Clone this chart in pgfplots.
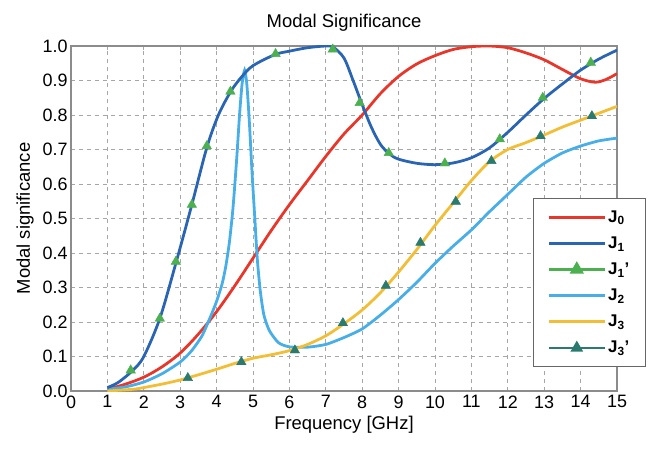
\documentclass[border=0pt]{standalone}
\usepackage{pgfplots}
\pgfplotsset{compat=1.18}
\usepackage{fontspec}
\setmainfont{Liberation Sans}
\definecolor{cJ0}{HTML}{E8362A}
\definecolor{cJ1}{HTML}{2A65B3}
\definecolor{cJ1p}{HTML}{4CAF50}
\definecolor{cJ2}{HTML}{47AEE8}
\definecolor{cJ3}{HTML}{F2BE36}
\definecolor{cJ3p}{HTML}{2A7A6E}
\begin{document}
\begin{tikzpicture}
\path[use as bounding box] (-71bp,-64bp) rectangle (597bp,391bp);
\begin{axis}[
  at={(0,0)}, anchor=south west,
  scale only axis, width=546bp, height=345bp,
  xmin=0, xmax=15, ymin=0, ymax=1,
  xtick={0,1,...,15},
  ytick={0,0.1,...,1.0},
  yticklabel style={/pgf/number format/.cd, fixed, fixed zerofill, precision=1},
  /pgf/number format/assume math mode=true,
  ticklabel style={font=\fontsize{18}{20}\selectfont},
  xticklabel style={yshift=-1bp},
  tick style={draw=gray!70, line width=0.8pt},
  tick align=inside, major tick length=4bp,
  axis line style={draw=gray!90, line width=1.3pt},
  grid=major,
  major grid style={draw=gray!70, dashed, line width=0.9pt, dash pattern=on 4bp off 4bp},
  title={Modal Significance},
  title style={font=\fontsize{18.5}{20}\selectfont, yshift=5bp},
  xlabel={Frequency [GHz]},
  ylabel={Modal significance},
  label style={font=\fontsize{18.5}{20}\selectfont},
  xlabel style={yshift=-1bp},
  ylabel style={yshift=2bp},
  legend cell align=left,
  legend style={at={(0.846,0.559)}, anchor=north west, draw=gray!80!black, line width=1pt,
    font=\fontsize{17}{19}\selectfont\bfseries, row sep=9bp, inner xsep=14bp, inner ysep=10bp},
  legend image code/.code={\draw[mark repeat=2,mark phase=2,#1] plot coordinates {(0bp,0bp) (28bp,0bp) (56bp,0bp)};},
]
\addplot[cJ0, line width=2.8pt, smooth, forget plot] coordinates {
(1,0.005)(1.5,0.02)(2,0.04)(2.5,0.07)(3,0.11)(3.5,0.165)(4,0.23)(4.5,0.305)(5,0.385)(5.5,0.465)(6,0.54)(6.5,0.61)(7,0.68)(7.5,0.745)(8,0.80)(8.5,0.862)(9,0.912)(9.5,0.948)(10,0.972)(10.5,0.99)(11,0.998)(11.5,1.0)(12,0.995)(12.5,0.98)(13,0.96)(13.5,0.932)(14,0.905)(14.4,0.895)(14.7,0.903)(15,0.92)};
\addplot[cJ2, line width=2.8pt, smooth, tension=0.4, forget plot] coordinates {
(1,0.005)(1.5,0.012)(2,0.026)(2.5,0.05)(3,0.084)(3.3,0.115)(3.6,0.16)(3.85,0.22)(4.0,0.26)(4.15,0.31)(4.25,0.36)(4.35,0.43)(4.45,0.53)(4.55,0.67)(4.63,0.8)(4.7,0.89)(4.77,0.93)(4.83,0.89)(4.9,0.78)(4.97,0.64)(5.05,0.5)(5.12,0.38)(5.2,0.29)(5.3,0.22)(5.45,0.175)(5.7,0.14)(6.0,0.128)(6.5,0.127)(7.0,0.135)(7.5,0.155)(8.0,0.18)(8.5,0.22)(9.0,0.265)(9.5,0.315)(10,0.37)(10.5,0.42)(11,0.467)(11.5,0.52)(12,0.57)(12.5,0.62)(13,0.66)(13.5,0.69)(14,0.71)(14.5,0.725)(15,0.733)};
\addplot[cJ3, line width=2.8pt, smooth, forget plot] coordinates {
(1,0.0)(1.7,0.005)(2,0.01)(2.5,0.02)(3,0.032)(3.5,0.047)(4,0.063)(4.5,0.08)(5,0.095)(5.5,0.105)(6,0.117)(6.5,0.135)(7,0.16)(7.5,0.195)(8,0.235)(8.5,0.285)(9,0.345)(9.5,0.41)(10,0.48)(10.5,0.545)(11,0.61)(11.5,0.665)(12,0.7)(12.5,0.72)(13,0.742)(13.5,0.765)(14,0.785)(14.5,0.805)(15,0.825)};
\addplot[cJ1, line width=2.8pt, smooth, forget plot] coordinates {
(1,0.01)(1.3,0.025)(1.7,0.06)(2,0.1)(2.44,0.21)(2.88,0.37)(3.32,0.54)(3.73,0.705)(4.05,0.8)(4.4,0.87)(4.7,0.912)(5,0.943)(5.6,0.975)(6,0.985)(6.5,0.995)(7,1.0)(7.2,0.997)(7.5,0.965)(7.75,0.9)(8,0.83)(8.25,0.765)(8.5,0.715)(8.75,0.687)(9,0.672)(9.5,0.66)(10,0.656)(10.5,0.661)(11,0.676)(11.5,0.705)(12,0.75)(12.5,0.8)(13,0.848)(13.5,0.89)(14,0.93)(14.5,0.962)(15,0.988)};
\addplot[only marks, mark=triangle*, mark size=5.5bp, mark options={draw=cJ1p, fill=cJ1p}, forget plot] coordinates {
(1.64,0.06)(2.44,0.21)(2.88,0.375)(3.32,0.54)(3.73,0.71)(4.38,0.868)(5.62,0.977)(7.19,0.99)(7.93,0.835)(8.73,0.69)(10.27,0.66)(11.78,0.73)(12.96,0.85)(14.28,0.952)};
\addplot[only marks, mark=triangle*, mark size=5.5bp, mark options={draw=cJ3p, fill=cJ3p}, forget plot] coordinates {
(3.21,0.038)(4.68,0.084)(6.15,0.118)(7.47,0.197)(8.65,0.305)(9.6,0.43)(10.57,0.549)(11.55,0.667)(12.9,0.739)(14.31,0.797)};
\addlegendimage{cJ0, line width=2.8pt}
\addlegendentry{J\textsubscript{0}}
\addlegendimage{cJ1, line width=2.8pt}
\addlegendentry{J\textsubscript{1}}
\addlegendimage{cJ1p, line width=2.8pt, mark=triangle*, mark size=5.5bp, mark options={fill=cJ1p}}
\addlegendentry{J\textsubscript{1}'}
\addlegendimage{cJ2, line width=2.8pt}
\addlegendentry{J\textsubscript{2}}
\addlegendimage{cJ3, line width=2.8pt}
\addlegendentry{J\textsubscript{3}}
\addlegendimage{cJ3p, line width=1.8pt, mark=triangle*, mark size=5.5bp, mark options={fill=cJ3p}}
\addlegendentry{J\textsubscript{3}'}
\end{axis}
\end{tikzpicture}
\end{document}
